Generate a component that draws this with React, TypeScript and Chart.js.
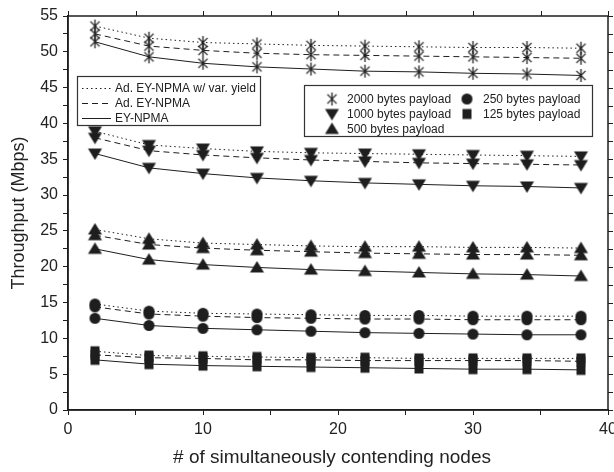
import React, { useEffect, useRef } from "react";
import { Chart, registerables } from "chart.js";

Chart.register(...registerables);

const INK = "#1e1e1e";
const FONT = "'Liberation Sans', Arial, sans-serif";

// x values: number of simultaneously contending nodes
const nodes = [2, 6, 10, 14, 18, 22, 26, 30, 34, 38];

// 2000 bytes payload
const p2000VarYield = [53.6, 51.9, 51.3, 51.1, 50.9, 50.8, 50.7, 50.6, 50.6, 50.5];
const p2000Adaptive = [52.5, 50.8, 50.2, 49.8, 49.6, 49.5, 49.4, 49.3, 49.2, 49.1];
const p2000Base = [51.4, 49.3, 48.4, 47.9, 47.6, 47.3, 47.2, 47.0, 46.9, 46.7];

// 1000 bytes payload
const p1000VarYield = [38.9, 37.0, 36.5, 36.1, 35.9, 35.8, 35.7, 35.6, 35.5, 35.4];
const p1000Adaptive = [38.0, 36.2, 35.6, 35.2, 34.9, 34.7, 34.5, 34.4, 34.3, 34.2];
const p1000Base = [35.8, 33.8, 33.0, 32.4, 32.0, 31.7, 31.5, 31.3, 31.2, 31.0];

// 500 bytes payload
const p500VarYield = [25.2, 23.9, 23.3, 23.1, 22.9, 22.8, 22.8, 22.7, 22.7, 22.6];
const p500Adaptive = [24.4, 23.1, 22.6, 22.3, 22.1, 21.9, 21.8, 21.7, 21.7, 21.6];
const p500Base = [22.5, 21.0, 20.3, 19.9, 19.6, 19.4, 19.2, 19.0, 18.9, 18.7];

// 250 bytes payload
const p250VarYield = [14.8, 13.8, 13.5, 13.4, 13.3, 13.2, 13.2, 13.1, 13.1, 13.1];
const p250Adaptive = [14.4, 13.4, 13.1, 12.9, 12.8, 12.7, 12.7, 12.6, 12.6, 12.6];
const p250Base = [12.8, 11.8, 11.4, 11.2, 11.0, 10.8, 10.7, 10.6, 10.5, 10.5];

// 125 bytes payload
const p125VarYield = [8.2, 7.6, 7.5, 7.4, 7.3, 7.3, 7.2, 7.2, 7.2, 7.2];
const p125Adaptive = [7.7, 7.3, 7.2, 7.0, 7.0, 6.9, 6.9, 6.9, 6.9, 6.8];
const p125Base = [7.0, 6.4, 6.2, 6.1, 6.0, 5.9, 5.8, 5.7, 5.7, 5.6];

const schemeLabels = ["Ad. EY-NPMA w/ var. yield", "Ad. EY-NPMA", "EY-NPMA"];
const payloadLabels = [
  "2000 bytes payload",
  "1000 bytes payload",
  "500 bytes payload",
  "250 bytes payload",
  "125 bytes payload",
];
const payloadMarkers = ["asterisk", "triDown", "triUp", "circle", "square"];
const payloadSeries = [
  [p2000VarYield, p2000Adaptive, p2000Base],
  [p1000VarYield, p1000Adaptive, p1000Base],
  [p500VarYield, p500Adaptive, p500Base],
  [p250VarYield, p250Adaptive, p250Base],
  [p125VarYield, p125Adaptive, p125Base],
];
const schemeDashes = [[1.5, 3], [6, 4], []];

const xTitle = "# of simultaneously contending nodes";
const yTitle = "Throughput (Mbps)";

function makeMarker(kind: string): HTMLCanvasElement {
  const s = 17;
  const c = document.createElement("canvas");
  c.width = s;
  c.height = s;
  const g = c.getContext("2d")!;
  const m = s / 2;
  g.fillStyle = INK;
  g.strokeStyle = INK;
  g.beginPath();
  if (kind === "asterisk") {
    g.lineWidth = 1.3;
    const r = 6.5;
    g.moveTo(m, m - r);
    g.lineTo(m, m + r);
    const d = r * Math.SQRT1_2;
    g.moveTo(m - d, m - d);
    g.lineTo(m + d, m + d);
    g.moveTo(m - d, m + d);
    g.lineTo(m + d, m - d);
    g.stroke();
  } else if (kind === "triDown") {
    g.moveTo(m - 7, m - 5);
    g.lineTo(m + 7, m - 5);
    g.lineTo(m, m + 6.5);
    g.closePath();
    g.fill();
  } else if (kind === "triUp") {
    g.moveTo(m - 7, m + 5);
    g.lineTo(m + 7, m + 5);
    g.lineTo(m, m - 6.5);
    g.closePath();
    g.fill();
  } else if (kind === "circle") {
    g.arc(m, m, 5.5, 0, Math.PI * 2);
    g.fill();
  } else {
    g.fillRect(m - 4.5, m - 5, 9, 10);
  }
  return c;
}

export default function App() {
  const ref = useRef<HTMLCanvasElement | null>(null);

  useEffect(() => {
    const canvas = ref.current;
    if (!canvas) return;
    const markers: Record<string, HTMLCanvasElement> = {};
    payloadMarkers.forEach((k) => (markers[k] = makeMarker(k)));

    const datasets: any[] = [];
    payloadSeries.forEach((group, pi) => {
      group.forEach((vals, si) => {
        datasets.push({
          label: payloadLabels[pi] + " / " + schemeLabels[si],
          data: nodes.map((x, k) => ({ x, y: vals[k] })),
          borderColor: INK,
          backgroundColor: INK,
          borderWidth: 1,
          borderDash: schemeDashes[si],
          pointStyle: markers[payloadMarkers[pi]],
          pointRadius: 5,
          fill: false,
          tension: 0,
        });
      });
    });

    const decor = {
      id: "decor",
      afterDraw(chart: any) {
        const ctx = chart.ctx as CanvasRenderingContext2D;
        const a = chart.chartArea;
        const xs = chart.scales.x;
        const ys = chart.scales.y;
        ctx.save();
        ctx.strokeStyle = INK;
        ctx.fillStyle = INK;
        // frame
        ctx.lineWidth = 1.5;
        ctx.strokeRect(a.left, a.top, a.right - a.left, a.bottom - a.top);
        // top & right ticks (mirror)
        ctx.lineWidth = 1;
        ctx.beginPath();
        xs.ticks.forEach((t: any) => {
          const px = Math.round(xs.getPixelForValue(t.value)) + 0.5;
          ctx.moveTo(px, a.top);
          ctx.lineTo(px, a.top - 5);
        });
        ys.ticks.forEach((t: any) => {
          const py = Math.round(ys.getPixelForValue(t.value)) + 0.5;
          ctx.moveTo(a.right, py);
          ctx.lineTo(a.right + 5, py);
        });
        ctx.stroke();

        // axis titles
        ctx.fillStyle = "#222";
        ctx.font = `19px ${FONT}`;
        ctx.textAlign = "center";
        ctx.textBaseline = "middle";
        ctx.fillText(xTitle, 332, 458);
        ctx.save();
        ctx.translate(19, (a.top + a.bottom) / 2);
        ctx.rotate(-Math.PI / 2);
        ctx.font = `18px ${FONT}`;
        ctx.fillText(yTitle, 0, 0);
        ctx.restore();

        // scheme legend (line styles)
        ctx.font = `12px ${FONT}`;
        ctx.textAlign = "left";
        ctx.lineWidth = 1.2;
        ctx.strokeStyle = "#333";
        ctx.strokeRect(77.5, 76.5, 183, 49);
        const rowsL = [88, 103, 118];
        schemeLabels.forEach((lab, i) => {
          ctx.save();
          ctx.lineWidth = 1;
          ctx.strokeStyle = INK;
          ctx.setLineDash(schemeDashes[i]);
          ctx.beginPath();
          ctx.moveTo(82, rowsL[i] + 0.5);
          ctx.lineTo(111, rowsL[i] + 0.5);
          ctx.stroke();
          ctx.restore();
          ctx.fillText(lab, 115, rowsL[i] + 1);
        });

        // payload legend (markers)
        ctx.strokeStyle = "#333";
        ctx.lineWidth = 1.2;
        ctx.strokeRect(304.5, 85.5, 288, 51);
        const rowsR = [99, 114, 129];
        const slots = [
          [332, 347, 0],
          [332, 347, 1],
          [332, 347, 2],
          [467, 483, 0],
          [467, 483, 1],
        ];
        payloadLabels.forEach((lab, i) => {
          const [mx, tx, r] = slots[i];
          const img = markers[payloadMarkers[i]];
          ctx.drawImage(img, mx - img.width / 2, rowsR[r] - img.height / 2);
          ctx.fillText(lab, tx, rowsR[r] + 1);
        });
        ctx.restore();
      },
    };

    const chart = new Chart(canvas, {
      type: "line",
      data: { datasets },
      options: {
        animation: false,
        responsive: false,
        maintainAspectRatio: false,
        events: [],
        layout: { padding: { top: 16, right: 2, left: 0, bottom: 0 } },
        plugins: { legend: { display: false }, tooltip: { enabled: false } },
        scales: {
          x: {
            type: "linear",
            min: 0,
            max: 40,
            ticks: {
              stepSize: 5,
              autoSkip: false,
              maxRotation: 0,
              padding: 5,
              color: "#222",
              font: { family: FONT, size: 16 },
              callback: (v: any) => (Number(v) % 10 === 0 ? String(v) : ""),
            },
            grid: { drawOnChartArea: false, drawTicks: true, tickLength: 5, color: INK },
            border: { color: INK, width: 1.5 },
            afterFit: (s: any) => {
              s.height = 62;
              s.paddingLeft = 0;
              s.paddingRight = 0;
            },
          },
          y: {
            type: "linear",
            min: 0,
            max: 55,
            ticks: {
              stepSize: 2.5,
              autoSkip: false,
              padding: 5,
              color: "#222",
              font: { family: FONT, size: 16 },
              callback: (v: any) => (Number(v) % 5 === 0 ? String(v) : ""),
            },
            grid: { drawOnChartArea: false, drawTicks: true, tickLength: 5, color: INK },
            border: { color: INK, width: 1.5 },
            afterFit: (s: any) => {
              s.width = 68;
              s.paddingTop = 0;
              s.paddingBottom = 0;
            },
          },
        },
      },
      plugins: [decor],
    });
    return () => chart.destroy();
  }, []);

  return (
    <div style={{ position: "absolute", left: 0, top: 0, width: 614, height: 472, background: "#fff" }}>
      <canvas ref={ref} width={614} height={472} style={{ display: "block" }} />
    </div>
  );
}
